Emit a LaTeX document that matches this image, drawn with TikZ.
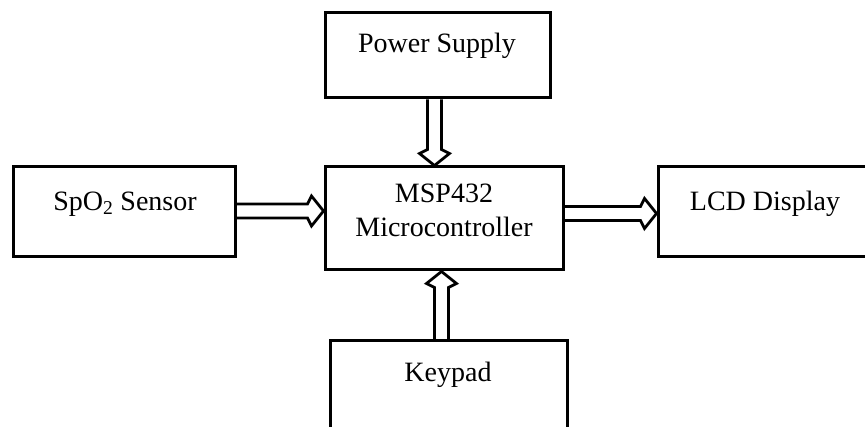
\documentclass[tikz,border=0pt]{standalone}
\usepackage{fontspec}
\setmainfont{Liberation Serif}
\usetikzlibrary{calc}

\begin{document}
\begin{tikzpicture}[x=1pt, y=1pt,
    block/.style={draw, line width=3pt, inner sep=0pt},
    blocktext/.style={font=\fontsize{28}{34}\selectfont, align=center},
    bus/.style={line width=2.8pt, line join=miter, to path={
        ($(\tikztostart)!7pt!90:(\tikztotarget)$)
        -- ($(\tikztotarget)!16pt!(\tikztostart)!7pt!90:(\tikztotarget)$)
        -- ($(\tikztotarget)!12pt!(\tikztostart)!15pt!90:(\tikztotarget)$)
        -- (\tikztotarget)
        -- ($(\tikztotarget)!12pt!(\tikztostart)!15pt!-90:(\tikztotarget)$)
        -- ($(\tikztotarget)!16pt!(\tikztostart)!7pt!-90:(\tikztotarget)$)
        -- ($(\tikztostart)!7pt!-90:(\tikztotarget)$)}}]
    \useasboundingbox (0,0) rectangle (865,426);

    % blocks
    \node[block, minimum width=225pt, minimum height=85pt] (power) at (437.5,370.5) {};
    \node[block, minimum width=238pt, minimum height=103pt] (mcu) at (444,207.5) {};
    \node[block, minimum width=222pt, minimum height=90pt] (sensor) at (124,214) {};
    \node[block, minimum width=222pt, minimum height=90pt] (lcd) at (769,214) {};
    \node[block, minimum width=237pt, minimum height=90pt] (keypad) at (448.5,40) {};

    % texts
    \node[blocktext] (powertext) at (437,380) {Power Supply};
    \node[blocktext] (mcutext) at (444,216) {MSP432\\Microcontroller};
    \node[blocktext] (sensortext) at (125,222) {SpO\textsubscript{2} Sensor};
    \node[blocktext] (lcdtext) at (765,222) {LCD Display};
    \node[blocktext] (keypadtext) at (448,51) {Keypad};

    % arrow ends
    \coordinate (powerout) at ([xshift=-3pt]power.south);
    \coordinate (mcutop) at (powerout |- mcu.north);
    \coordinate (sensorout) at ([yshift=1pt]sensor.east);
    \coordinate (mculeft) at (sensorout -| mcu.west);
    \coordinate (mcuout) at ([yshift=5pt]mcu.east);
    \coordinate (lcdin) at (mcuout -| lcd.west);
    \coordinate (keypadout) at ([xshift=-7pt]keypad.north);
    \coordinate (mcubottom) at (keypadout |- mcu.south);

    % connections
    \draw[bus] (powerout) to (mcutop);
    \draw[bus] (sensorout) to (mculeft);
    \draw[bus] (mcuout) to (lcdin);
    \draw[bus] (keypadout) to (mcubottom);
\end{tikzpicture}
\end{document}
